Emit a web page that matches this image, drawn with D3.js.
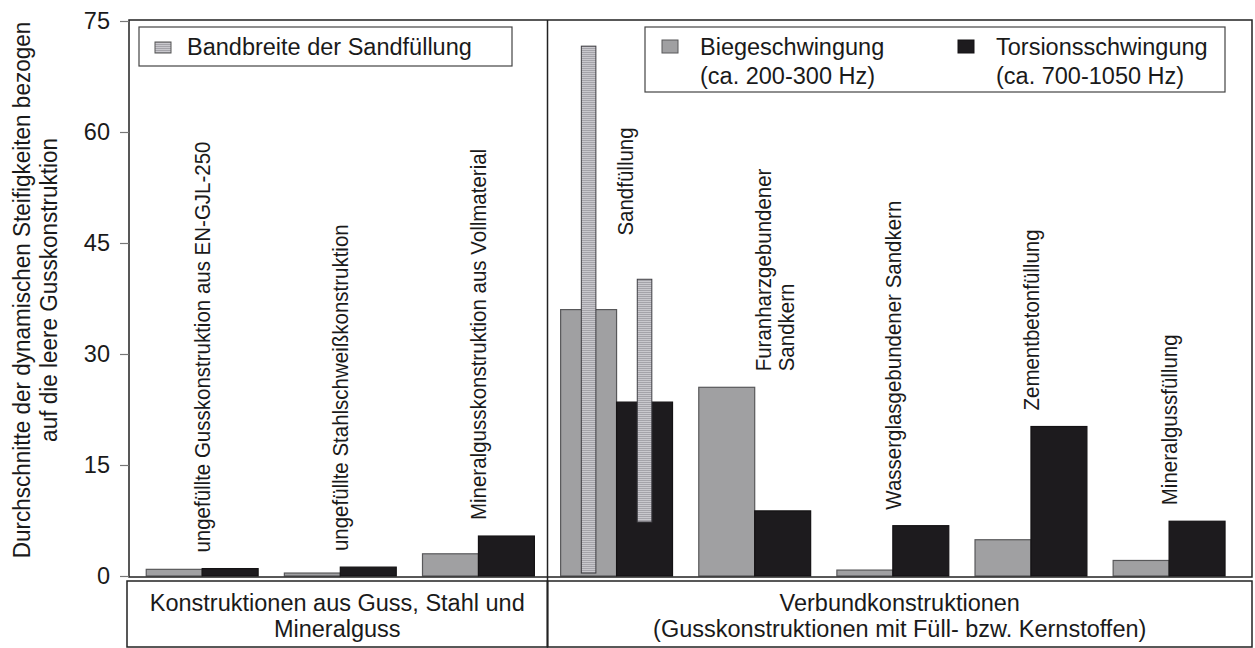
<!DOCTYPE html>
<html>
<head>
<meta charset="utf-8">
<script src="https://cdn.jsdelivr.net/npm/d3@7"></script>
<style>
  body { margin: 0; background: #fff; }
  text { font-family: "Liberation Sans", Arial, sans-serif; fill: #1a1a1a; }
</style>
</head>
<body>
<div id="vis"></div>
<script>
// data
const categories = ["guss", "stahl", "mineralvoll", "sand", "furan", "wasserglas", "zement", "mineralfuell"]
const catLabels = [
    ["ungefüllte Gusskonstruktion aus EN-GJL-250"],
    ["ungefüllte Stahlschweißkonstruktion"],
    ["Mineralgusskonstruktion aus Vollmaterial"],
    ["Sandfüllung"],
    ["Furanharzgebundener", "Sandkern"],
    ["Wasserglasgebundener Sandkern"],
    ["Zementbetonfüllung"],
    ["Mineralgussfüllung"]
]
const series = ["biege", "torsion"]
const biege = [0.9, 0.4, 3.0, 36.0, 25.5, 0.8, 4.9, 2.1]
const torsion = [1.0, 1.2, 5.4, 23.5, 8.8, 6.8, 20.2, 7.4]
// range of the sand filling (only for "sand")
const sandSeries = ["biege", "torsion"]
const sandLow = [0.4, 7.3]
const sandHigh = [71.6, 40.1]
const yTicks = [0, 15, 30, 45, 60, 75]
const groupNames = [
    ["Konstruktionen aus Guss, Stahl und", "Mineralguss"],
    ["Verbundkonstruktionen", "(Gusskonstruktionen mit Füll- bzw. Kernstoffen)"]
]
const groupSizes = [3, 5]
const legendSand = "Bandbreite der Sandfüllung"
const legendSeries = [
    ["Biegeschwingung", "(ca. 200-300 Hz)"],
    ["Torsionsschwingung", "(ca. 700-1050 Hz)"]
]
const yTitle = ["Durchschnitte der dynamischen Steifigkeiten bezogen", "auf die leere Gusskonstruktion"]

// layout
const W = 1255, H = 648
const plot = {left: 129, right: 1252, top: 20, bottom: 577}
const colors = {biege: "#a0a0a2", torsion: "#1d1b1e"}
const strokes = {biege: "#58585a", torsion: "#141214"}
const fs = 23.5       // horizontal text
const fsRot = 20.5    // rotated labels

const svg = d3.select("#vis").append("svg")
    .attr("width", W)
    .attr("height", H)

const defs = svg.append("defs")
const pat = defs.append("pattern")
    .attr("id", "sandPat")
    .attr("patternUnits", "userSpaceOnUse")
    .attr("width", 4).attr("height", 2)
pat.append("rect").attr("width", 4).attr("height", 2).attr("fill", "#c9c8cd")
pat.append("rect").attr("width", 4).attr("height", 1).attr("fill", "#a4a3a9")

const x0 = d3.scaleBand()
    .domain(categories)
    .range([plot.left, plot.right])
    .paddingInner(0.19)
    .paddingOuter(0.16)
    .align(0.39)
const x1 = d3.scaleBand()
    .domain(series)
    .range([0, x0.bandwidth()])
const y = d3.scaleLinear()
    .domain([0, 75])
    .range([plot.bottom - 1, 21])

const values = {biege: biege, torsion: torsion}
const barData = []
categories.forEach((c, i) => {
    series.forEach(s => barData.push({cat: c, s: s, v: values[s][i]}))
})

// bars
svg.append("g").selectAll("rect")
    .data(barData)
    .join("rect")
    .attr("x", d => x0(d.cat) + x1(d.s))
    .attr("y", d => y(d.v))
    .attr("width", x1.bandwidth())
    .attr("height", d => y(0) - y(d.v))
    .attr("fill", d => colors[d.s])
    .attr("stroke", d => strokes[d.s])
    .attr("stroke-width", 1.2)

// sand range bars
const sw = x1.bandwidth() * 0.26
svg.append("g").selectAll("rect")
    .data(sandSeries.map((s, i) => ({s: s, lo: sandLow[i], hi: sandHigh[i]})))
    .join("rect")
    .attr("x", d => x0("sand") + x1(d.s) + x1.bandwidth() / 2 - sw / 2)
    .attr("y", d => y(d.hi))
    .attr("width", sw)
    .attr("height", d => y(d.lo) - y(d.hi))
    .attr("fill", "url(#sandPat)")
    .attr("stroke", "#3e3d42")
    .attr("stroke-width", 1)

// rotated category labels
const labelShift = {sand: {v: 46, dx: 8}, furan: {dx: 20}}
const lineH = 23
categories.forEach((c, i) => {
    const o = labelShift[c] || {}
    const top = Math.max(biege[i], torsion[i])
    const y0 = o.v !== undefined ? y(o.v) : y(top) - 16
    const cx = x0(c) + x0.bandwidth() / 2 + (o.dx || 0)
    const g = svg.append("g").attr("transform", `translate(${cx},${y0}) scale(1.12,1) rotate(-90)`)
    const lines = catLabels[i]
    lines.forEach((t, k) => {
        g.append("text")
            .attr("x", 0)
            .attr("y", (k - (lines.length - 1) / 2) * lineH / 1.12)
            .attr("dy", "0.35em")
            .attr("font-size", fsRot)
            .text(t)
    })
})

// frame
const divX = (x0(categories[2]) + x0.bandwidth() + x0(categories[3])) / 2
svg.append("rect")
    .attr("x", plot.left).attr("y", plot.top)
    .attr("width", plot.right - plot.left).attr("height", plot.bottom - plot.top)
    .attr("fill", "none").attr("stroke", "#222").attr("stroke-width", 1.5)
svg.append("line")
    .attr("x1", divX).attr("x2", divX).attr("y1", plot.top).attr("y2", H - 1)
    .attr("stroke", "#222").attr("stroke-width", 1.5)

// y axis
const yAxis = svg.append("g")
    .attr("transform", `translate(${plot.left},0)`)
    .call(d3.axisLeft(y).tickValues(yTicks).tickSize(9).tickPadding(10))
yAxis.select(".domain").remove()
yAxis.selectAll(".tick line").attr("stroke", "#777").attr("stroke-width", 1.2)
yAxis.selectAll(".tick text")
    .attr("font-size", fs)
    .attr("font-family", "Liberation Sans, Arial, sans-serif")
    .attr("fill", "#1a1a1a")

const yt = svg.append("g").attr("transform", `translate(0,290) scale(1.1,1) rotate(-90)`)
yTitle.forEach((t, k) => {
    yt.append("text")
        .attr("x", 0).attr("y", (30 + k * 27) / 1.1)
        .attr("text-anchor", "middle")
        .attr("font-size", 22.5)
        .text(t)
})

// group boxes under the plot
const boxTop = 581, boxBottom = H - 1
const boxEdges = [plot.left - 2, divX, plot.right]
groupSizes.forEach((n, gi) => {
    const bx = boxEdges[gi], bw = boxEdges[gi + 1] - boxEdges[gi]
    svg.append("rect")
        .attr("x", bx).attr("y", boxTop)
        .attr("width", bw).attr("height", boxBottom - boxTop)
        .attr("fill", "none").attr("stroke", "#222").attr("stroke-width", 1.5)
    groupNames[gi].forEach((t, k) => {
        svg.append("text")
            .attr("x", bx + bw / 2).attr("y", 611 + k * 26)
            .attr("text-anchor", "middle")
            .attr("font-size", fs)
            .text(t)
    })
})

// legend: sand range
svg.append("rect")
    .attr("x", 139).attr("y", 27).attr("width", 373).attr("height", 39)
    .attr("fill", "#fff").attr("stroke", "#444").attr("stroke-width", 1.2)
svg.append("rect")
    .attr("x", 155).attr("y", 42).attr("width", 16).attr("height", 11)
    .attr("fill", "url(#sandPat)").attr("stroke", "#555")
svg.append("text")
    .attr("x", 187).attr("y", 55)
    .attr("font-size", fs)
    .text(legendSand)

// legend: series
svg.append("rect")
    .attr("x", 645).attr("y", 27).attr("width", 580).attr("height", 65)
    .attr("fill", "#fff").attr("stroke", "#444").attr("stroke-width", 1.2)
const legX = [662, 958]
series.forEach((s, i) => {
    svg.append("rect")
        .attr("x", legX[i]).attr("y", 40).attr("width", 16).attr("height", 13)
        .attr("fill", colors[s]).attr("stroke", strokes[s])
    legendSeries[i].forEach((t, k) => {
        svg.append("text")
            .attr("x", legX[i] + 38).attr("y", 55 + k * 29)
            .attr("font-size", fs)
            .text(t)
    })
})
</script>
</body>
</html>
